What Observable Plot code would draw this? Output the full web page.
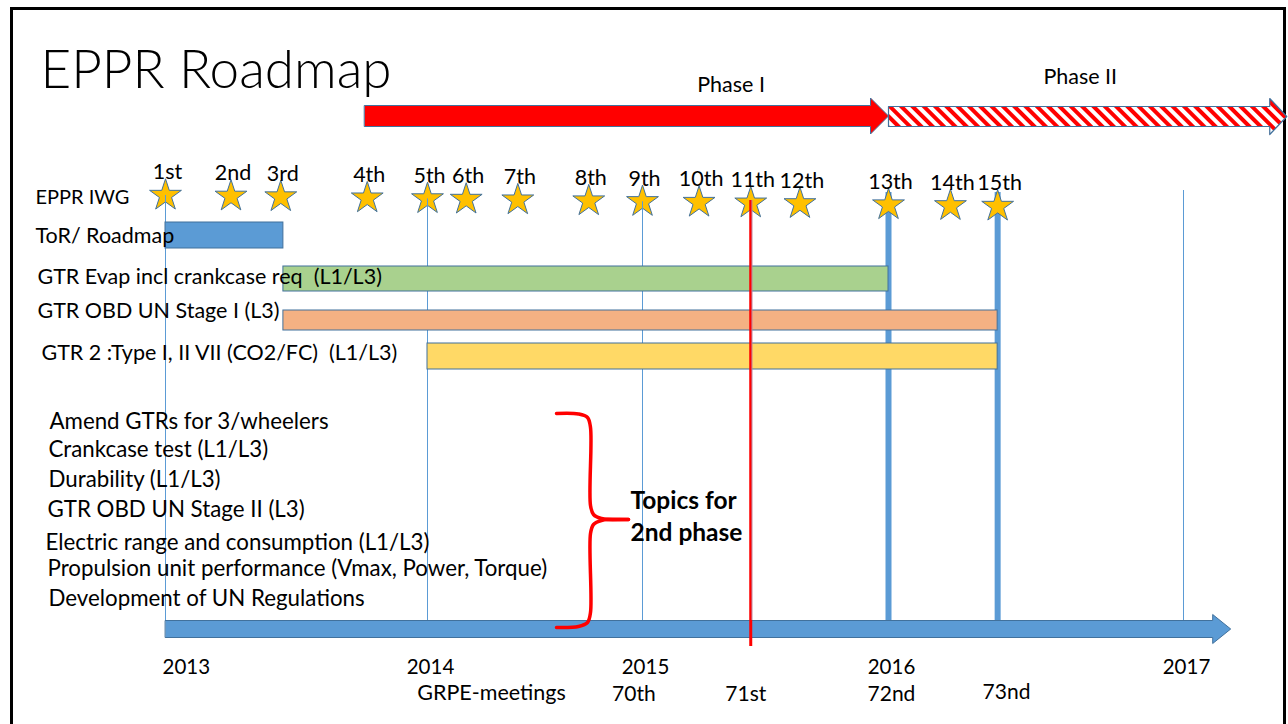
<!DOCTYPE html>
<html><head><meta charset="utf-8">
<script src="https://cdn.jsdelivr.net/npm/d3@7"></script>
<script src="https://cdn.jsdelivr.net/npm/@observablehq/plot@0.6"></script>
<style>body{margin:0;background:#fff;font-family:Lato,sans-serif}</style>
</head><body><div id="chart"></div>
<script>
// ---------------- data ----------------
const title = "EPPR Roadmap";
const years = [2013, 2014, 2015, 2016, 2017];
const yearLabels = ["2013", "2014", "2015", "2016", "2017"];
const timelineEnd = 2017.16;

const meetings = ["1st","2nd","3rd","4th","5th","6th","7th","8th","9th","10th","11th","12th","13th","14th","15th"];
const meetingDates = [2013.0, 2013.25, 2013.44, 2013.77, 2014.0, 2014.18, 2014.42, 2014.75, 2015.0, 2015.23, 2015.44, 2015.64, 2016.0, 2016.21, 2016.37];

const phases = ["Phase I", "Phase II"];
const phaseStart = [2013.76, 2016.0];
const phaseEnd = [2016.0, 2017.35];
const phaseLabelAt = [2015.36, 2016.65];

const rowLabels = ["EPPR IWG", "ToR/ Roadmap", "GTR Evap incl crankcase req  (L1/L3)", "GTR OBD UN Stage I (L3)", "GTR 2 :Type I, II VII (CO2/FC)  (L1/L3)"];
const taskStart = [2013.0, 2013.45, 2013.45, 2014.0];
const taskEnd = [2013.45, 2016.0, 2016.37, 2016.37];

const topics = ["Amend GTRs for 3/wheelers", "Crankcase test (L1/L3)", "Durability (L1/L3)", "GTR OBD UN Stage II (L3)", "Electric range and consumption (L1/L3)", "Propulsion unit performance (Vmax, Power, Torque)", "Development of UN Regulations"];
const topicsNote = ["Topics for", "2nd phase"];

const grpeTitle = "GRPE-meetings";
const grpeMeetings = ["70th", "71st", "72nd", "73nd"];
const grpeDates = [2014.96, 2015.42, 2016.01, 2016.40];

// ---------------- layout ----------------
const W = 1288, H = 724;
const xStops = [165, 427, 642, 888, 1183];           // pixel position of each year line
const xpx = d3.scaleLinear(years, xStops);
const atPx = p => xpx.invert(p);
const FONT = "Lato, sans-serif";
const BLUE = "#5b9bd5", EDGE = "#41719c", RED = "#ff0000";
const taskFill = ["#5b9bd5", "#a9d18e", "#f4b183", "#ffd966"];
const taskY = [[222, 248], [266, 291], [310, 330], [343, 369]];
const rowY = [197, 236, 277, 311, 353];
const rowX = [35, 35, 37, 37, 41];
const rowSize = [20, 21.5, 21.5, 21.5, 21.5];
const topicY = [421, 449, 479, 509, 542, 568, 598];
const topicX = [49, 48, 48, 47, 45, 47, 48];
const starY = d => 195 + 11 * (xpx(d) - 165) / (998 - 165);

function arrowPts(x1, x2, yc, body, head, headLen) {
  const xh = xpx.invert(xpx(x2) - headLen);
  return [[x1, yc - body / 2], [xh, yc - body / 2], [xh, yc - head / 2], [x2, yc],
          [xh, yc + head / 2], [xh, yc + body / 2], [x1, yc + body / 2]];
}

const tasks = taskStart.map((s, i) => ({s, e: taskEnd[i], y1: taskY[i][0], y2: taskY[i][1], fill: taskFill[i]}));
const stars = meetings.map((m, i) => ({m, d: meetingDates[i]}));
const thinYears = years.filter(y => y !== 2016);
const thickDates = [meetingDates[12], meetingDates[14]];
const nowDate = meetingDates[10];

const braceTop = [[556,413],[578,413.5],[587,417],[590,427],[590,505],[593,514],[601,518],[628,519]];
const braceBot = [[628,519],[601,520],[593,524],[590,533],[590,612],[587,622],[578,626],[556,627]];
const toData = pts => pts.map(([x, y]) => [atPx(x), y]);

const lineXY = {x: d => d[0], y: d => d[1]};

const rowMarks = rowLabels.map((t, i) =>
  Plot.text([t], {x: atPx(rowX[i]), y: rowY[i], text: d => d, textAnchor: "start", fontSize: rowSize[i], fill: "#000"}));

const plot = Plot.plot({
  width: W, height: H, margin: 0,
  x: {type: "linear", domain: years, range: xStops, axis: null},
  y: {type: "linear", domain: [0, H], range: [0, H], axis: null},
  style: {fontFamily: FONT, background: "#fff", color: "#000"},
  marks: [
    Plot.frame({stroke: "#000", strokeWidth: 3, insetLeft: 11, insetTop: 8, insetRight: 4, insetBottom: -10}),
    // thick lines at 13th and 15th meetings
    Plot.ruleX(thickDates, {x: d => d, y1: 192, y2: 626, stroke: BLUE, strokeWidth: 6}),
    // stars
    Plot.dot(stars, {x: "d", y: d => starY(d.d), symbol: "star", r: 10, fill: "#ffc000", stroke: EDGE, strokeWidth: 1}),
    // thin year lines
    Plot.ruleX(thinYears, {x: d => d, y1: d => d === 2017 ? 190 : starY(d), y2: 621, stroke: BLUE, strokeWidth: 1}),
    // task bars
    Plot.rect(tasks, {x1: "s", x2: "e", y1: "y1", y2: "y2", fill: "fill", stroke: EDGE, strokeWidth: 1}),
    // phase arrows
    Plot.line(arrowPts(phaseStart[0], phaseEnd[0], 115.5, 21, 36, 18), {...lineXY, curve: "linear-closed", fill: RED, stroke: EDGE, strokeWidth: 1}),
    Plot.line(arrowPts(phaseStart[1], phaseEnd[1], 116, 20, 36, 17), {...lineXY, curve: "linear-closed", fill: "url(#hatch)", stroke: EDGE, strokeWidth: 1.2}),
    // timeline arrow
    Plot.line(arrowPts(years[0], timelineEnd, 628.5, 17, 29, 18), {...lineXY, curve: "linear-closed", fill: BLUE, stroke: EDGE, strokeWidth: 1}),
    // current (11th) red line
    Plot.ruleX([nowDate], {x: d => d, y1: 200, y2: 646, stroke: RED, strokeWidth: 3}),
    Plot.ruleX([nowDate], {x: d => d, y1: 200, y2: 620, stroke: "#9dc3e6", strokeWidth: 0.7, dx: 1.2}),
    // brace
    Plot.line(toData(braceTop), {...lineXY, curve: "catmull-rom", stroke: RED, strokeWidth: 3.5}),
    Plot.line(toData(braceBot), {...lineXY, curve: "catmull-rom", stroke: RED, strokeWidth: 3.5}),
    // texts
    Plot.text([title], {x: atPx(40), y: 71, text: d => d, textAnchor: "start", fontSize: 53, fontWeight: 300, fill: "#000"}),
    Plot.text(phases, {x: (d, i) => phaseLabelAt[i], y: (d, i) => [85, 77][i], text: d => d, fontSize: 21.5, fill: "#000"}),
    Plot.text(stars, {x: "d", y: d => starY(d.d) - 23, text: "m", dx: 2, fontSize: 21.5, fill: "#000"}),
    ...rowMarks,
    Plot.text(topics, {x: (d, i) => atPx(topicX[i]), y: (d, i) => topicY[i], text: d => d, textAnchor: "start", fontSize: 22.3, fill: "#000"}),
    Plot.text(topicsNote, {x: atPx(630), y: (d, i) => [501, 533][i], text: d => d, textAnchor: "start", fontSize: 24.5, fontWeight: "bold", fill: "#000"}),
    Plot.text(yearLabels.slice(0, 1), {x: years[0], y: 667, text: d => d, textAnchor: "start", dx: -3, fontSize: 20.5, fill: "#000"}),
    Plot.text(yearLabels.slice(1), {x: (d, i) => years[i + 1], y: 667, text: d => d, dx: 3, fontSize: 20.5, fill: "#000"}),
    Plot.text([grpeTitle], {x: atPx(491), y: 693, text: d => d, fontSize: 21.5, fill: "#000"}),
    Plot.text(grpeMeetings, {x: (d, i) => grpeDates[i], y: (d, i) => i === 3 ? 692 : 694, text: d => d, fontSize: 21, fill: "#000"})
  ]
});

// hatch pattern for Phase II
const defs = d3.select(plot).insert("defs", ":first-child");
const pat = defs.append("pattern").attr("id", "hatch").attr("patternUnits", "userSpaceOnUse")
  .attr("width", 8).attr("height", 8).attr("patternTransform", "rotate(-45)");
pat.append("rect").attr("width", 8).attr("height", 8).attr("fill", "#fff");
pat.append("rect").attr("width", 4).attr("height", 8).attr("fill", RED);

document.getElementById("chart").appendChild(plot);
</script>
</body></html>
